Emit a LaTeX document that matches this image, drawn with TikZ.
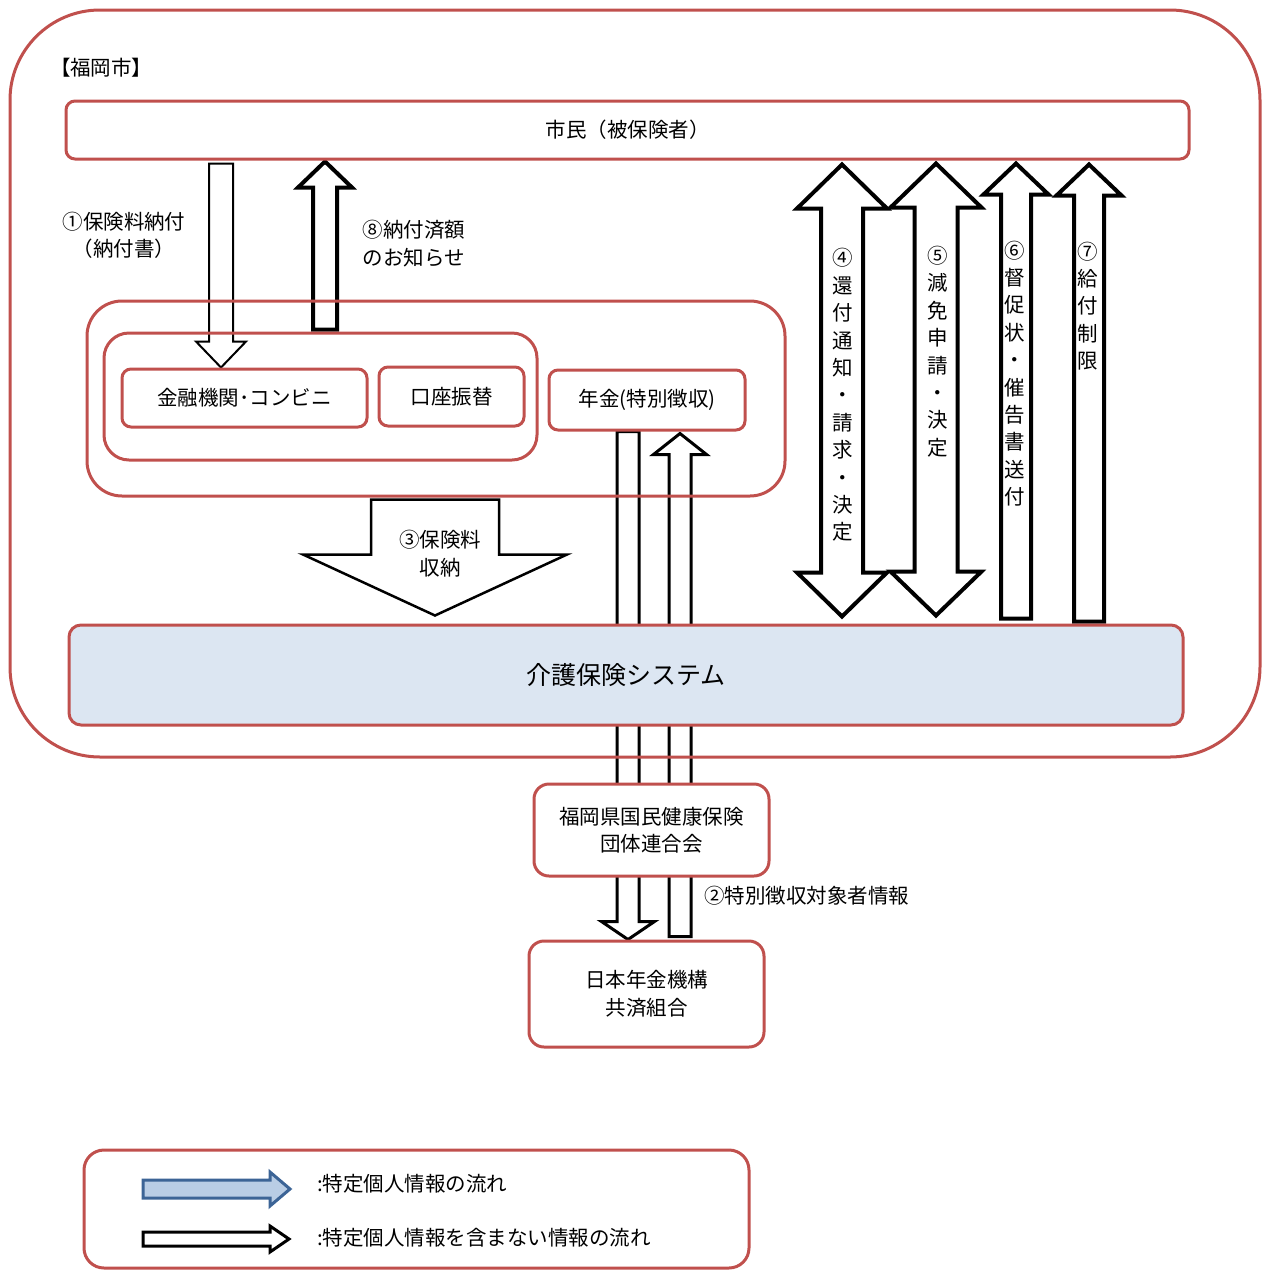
\documentclass[tikz,border=0pt]{standalone}
\usepackage{fontspec}
\setmainfont{Noto Sans CJK JP}
\usepackage{tikz}
\usepackage{xcolor}
\usetikzlibrary{calc}
\definecolor{boxred}{HTML}{C0504D}
\definecolor{sysblue}{HTML}{DCE6F2}
\definecolor{legfill}{HTML}{B9CDE5}
\definecolor{legline}{HTML}{3C6496}
\pgfdeclarelayer{background}
\pgfsetlayers{background,main}
\tikzset{
    red-box/.style = {draw=boxred, line width=3pt, rectangle, rounded corners=9pt, inner sep=0pt, align=center},
    block-arrow/.style = {draw=black, fill=white, line width=3pt, line join=miter},
    plain-label/.style = {inner sep=0pt, align=center},
    vertical-label/.style = {inner sep=0pt, align=center, font=\fontsize{20.5}{27.4}\selectfont},
}
% single block arrow, vertical: [style]{tail}{tip}{half shaft}{half head}{head length}
\newcommand{\vblock}[6][]{%
    \draw[block-arrow,#1] let \p1=(#2), \p2=(#3), \n1={ifthenelse(\y2>\y1,1,-1)} in
        (\x1-#4,\y1) -- (\x1-#4,\y2-\n1*#6) -- (\x1-#5,\y2-\n1*#6) -- (\x1,\y2)
        -- (\x1+#5,\y2-\n1*#6) -- (\x1+#4,\y2-\n1*#6) -- (\x1+#4,\y1) -- cycle;}
% double block arrow, vertical
\newcommand{\vdblock}[6][]{%
    \draw[block-arrow,#1] let \p1=(#2), \p2=(#3), \n1={ifthenelse(\y2>\y1,1,-1)} in
        (\x1,\y1) -- (\x1-#5,\y1+\n1*#6) -- (\x1-#4,\y1+\n1*#6) -- (\x1-#4,\y2-\n1*#6)
        -- (\x1-#5,\y2-\n1*#6) -- (\x1,\y2) -- (\x1+#5,\y2-\n1*#6) -- (\x1+#4,\y2-\n1*#6)
        -- (\x1+#4,\y1+\n1*#6) -- (\x1+#5,\y1+\n1*#6) -- cycle;}
% single block arrow, horizontal
\newcommand{\hblock}[6][]{%
    \draw[block-arrow,#1] let \p1=(#2), \p2=(#3), \n1={ifthenelse(\x2>\x1,1,-1)} in
        (\x1,\y1-#4) -- (\x2-\n1*#6,\y1-#4) -- (\x2-\n1*#6,\y1-#5) -- (\x2,\y1)
        -- (\x2-\n1*#6,\y1+#5) -- (\x2-\n1*#6,\y1+#4) -- (\x1,\y1+#4) -- cycle;}

\begin{document}
\begin{tikzpicture}[x=1pt, y=-1pt, font=\fontsize{20.5}{27.5}\selectfont]
\useasboundingbox (0,0) rectangle (1266,1270);

% Fukuoka city frame
\node[red-box, rounded corners=90pt, minimum width=1250pt, minimum height=747pt] (city) at (635,383.5) {};
\node[plain-label] (city-title) at (101,68) {\addfontfeature{RawFeature=+palt}【福岡市】};
\node[red-box, fill=white, minimum width=1123pt, minimum height=58pt] (citizen) at (627.5,130) {市民（被保険者）};

% collection boxes
\node[red-box, rounded corners=35pt, minimum width=698pt, minimum height=195pt] (collect) at (436,398.5) {};
\node[red-box, rounded corners=25pt, minimum width=433pt, minimum height=127pt] (normal) at (320.5,396.5) {};
\node[red-box, fill=white, minimum width=245pt, minimum height=58pt] (bank) at (244.5,398) {金融機関･コンビニ};
\node[red-box, fill=white, minimum width=145pt, minimum height=59pt] (transfer) at (451.5,396.5) {口座振替};
\node[red-box, fill=white, minimum width=196pt, minimum height=60pt] (pension) at (647,400) {年金(特別徴収)};

\node[red-box, fill=sysblue, rounded corners=12pt, minimum width=1114pt, minimum height=100pt,
      font=\fontsize{25}{30}\selectfont] (system) at (626,675) {介護保険システム};

% outside bodies
\node[red-box, fill=white, rounded corners=15pt, minimum width=235pt, minimum height=92pt] (kokuho) at (651.5,830) {福岡県国民健康保険\\団体連合会};
\node[red-box, fill=white, rounded corners=15pt, minimum width=235pt, minimum height=106pt] (nenkin) at (646.5,994) {日本年金機構\\共済組合};

% labels
\node[plain-label] (pay-label) at (124,235.5) {①保険料納付\\（納付書）};
\node[plain-label] (done-label) at (414,243.5) {⑧納付済額\\のお知らせ};
\node[plain-label] (recv-label) at (440,553.5) {③保険料\\収納};
\node[plain-label, anchor=west] (target-label) at (704,896) {②特別徴収対象者情報};
\node[vertical-label] (refund-label) at (843,395) {④\\還\\付\\通\\知\\・\\請\\求\\・\\決\\定};
\node[vertical-label] (reduce-label) at (938,351.5) {⑤\\減\\免\\申\\請\\・\\決\\定};
\node[vertical-label] (demand-label) at (1015,373.5) {⑥\\督\\促\\状\\・\\催\\告\\書\\送\\付};
\node[vertical-label] (limit-label) at (1088,306) {⑦\\給\\付\\制\\限};

% legend
\node[red-box, rounded corners=20pt, minimum width=665pt, minimum height=118pt] (legend) at (416.5,1209) {};
\node[plain-label, anchor=west] (leg-pi) at (317,1184) {:特定個人情報の流れ};
\node[plain-label, anchor=west] (leg-nopi) at (317,1238) {:特定個人情報を含まない情報の流れ};
\coordinate (leg-pi-a) at (143,1189);
\coordinate (leg-pi-b) at (290,1189);
\coordinate (leg-nopi-a) at (143,1239);
\coordinate (leg-nopi-b) at (289,1239);
\hblock[draw=legline, fill=legfill]{leg-pi-a}{leg-pi-b}{9}{17}{20}
\hblock{leg-nopi-a}{leg-nopi-b}{7}{13}{19}

% arrow ends
\coordinate (pay-tail) at ($(221,0 |- citizen.south)+(0,3)$);
\coordinate (pay-tip) at (221,0 |- bank.north);
\coordinate (done-tail) at ($(325,0 |- normal.north)+(0,-2)$);
\coordinate (done-tip) at ($(325,0 |- citizen.south)+(0,1)$);
\coordinate (recv-tail) at ($(435,0 |- collect.south)+(0,2)$);
\coordinate (recv-tip) at ($(435,0 |- system.north)+(0,-8)$);
\coordinate (refund-a) at ($(842,0 |- citizen.south)+(0,4)$);
\coordinate (refund-b) at ($(842,0 |- system.north)+(0,-7)$);
\coordinate (reduce-a) at ($(936,0 |- citizen.south)+(0,3)$);
\coordinate (reduce-b) at ($(936,0 |- system.north)+(0,-8)$);
\coordinate (demand-tail) at ($(1016,0 |- system.north)+(0,-5)$);
\coordinate (demand-tip) at ($(1016,0 |- citizen.south)+(0,3)$);
\coordinate (limit-tail) at ($(1089,0 |- system.north)+(0,-2)$);
\coordinate (limit-tip) at ($(1089,0 |- citizen.south)+(0,4)$);
\coordinate (tok-tail) at (628,0 |- pension.south);
\coordinate (tok-tip) at (628,0 |- nenkin.north);
\coordinate (tgt-tail) at ($(680,0 |- nenkin.north)+(0,-3)$);
\coordinate (tgt-tip) at ($(680,0 |- pension.south)+(0,2)$);

\begin{pgfonlayer}{background}
\vblock[line width=2pt]{pay-tail}{pay-tip}{12}{25}{26}
\vblock[line width=4pt]{done-tail}{done-tip}{12}{27}{26}
\vblock[line width=2.5pt]{recv-tail}{recv-tip}{64}{132}{61}
\vdblock[line width=4pt]{refund-a}{refund-b}{21}{45}{44}
\vdblock[line width=4pt]{reduce-a}{reduce-b}{21.5}{45.5}{44}
\vblock[line width=4pt]{demand-tail}{demand-tip}{15}{32.5}{31}
\vblock[line width=4pt]{limit-tail}{limit-tip}{15}{32.5}{31}
\vblock{tok-tail}{tok-tip}{11}{26.5}{18}
\vblock{tgt-tail}{tgt-tip}{11}{26.5}{21}
\end{pgfonlayer}
\end{tikzpicture}
\end{document}
